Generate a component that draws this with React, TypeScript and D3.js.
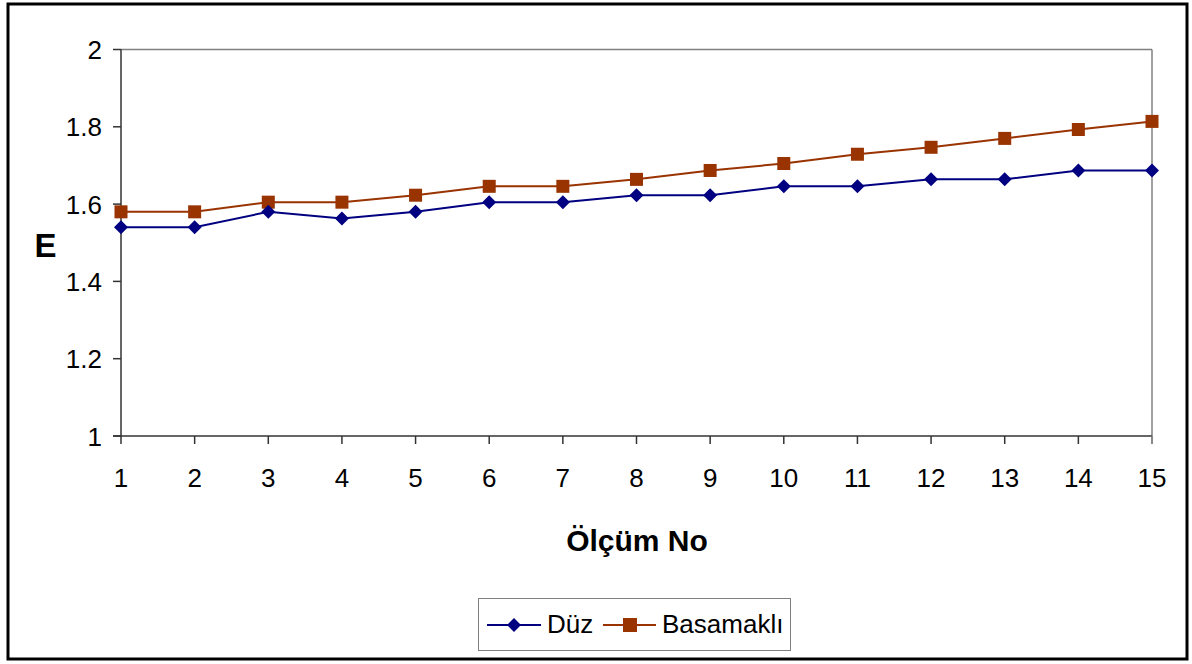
import React from "react";
import * as d3 from "d3";

const measurements = [1, 2, 3, 4, 5, 6, 7, 8, 9, 10, 11, 12, 13, 14, 15];
const duzValues = [1.54, 1.54, 1.58, 1.563, 1.58, 1.605, 1.605, 1.623, 1.623, 1.646, 1.646, 1.664, 1.664, 1.687, 1.687];
const basamakliValues = [1.58, 1.58, 1.605, 1.605, 1.623, 1.646, 1.646, 1.664, 1.687, 1.705, 1.729, 1.747, 1.77, 1.793, 1.814];
const yTicks = [1, 1.2, 1.4, 1.6, 1.8, 2];

const W = 1192;
const H = 664;
const FONT = "'Liberation Sans', Arial, sans-serif";
const BLUE = "#000080";
const ORANGE = "#993300";

export default function App() {
  const x = d3.scaleLinear().domain([1, 15]).range([121, 1152]);
  const y = d3.scaleLinear().domain([1, 2]).range([436, 49.5]);

  const line = d3
    .line<number>()
    .x((_, i) => x(measurements[i]))
    .y((d) => y(d));

  const diamond = (cx: number, cy: number, r = 7) =>
    `M${cx},${cy - r}L${cx + r},${cy}L${cx},${cy + r}L${cx - r},${cy}Z`;

  return (
    <svg
      width={W}
      height={H}
      style={{ position: "absolute", left: 0, top: 0, background: "#fff" }}
    >
      {/* outer frame */}
      <rect x={8} y={4} width={1179} height={655} fill="none" stroke="#000" strokeWidth={3} />

      {/* plot frame (top and right) */}
      <line x1={x(1)} x2={x(15)} y1={y(2)} y2={y(2)} stroke="#808080" strokeWidth={1.5} />
      <line x1={x(15)} x2={x(15)} y1={y(2)} y2={y(1) + 8} stroke="#808080" strokeWidth={1.5} />

      {/* y axis */}
      <line x1={x(1)} x2={x(1)} y1={y(2)} y2={y(1)} stroke="#333" strokeWidth={1.5} />
      {yTicks.map((t) => (
        <g key={t}>
          <line x1={x(1) - 8} x2={x(1)} y1={y(t)} y2={y(t)} stroke="#333" strokeWidth={1.5} />
          <text
            x={102}
            y={y(t) + 9.5}
            textAnchor="end"
            fontFamily={FONT}
            fontSize={26}
            fill="#000"
          >
            {d3.format("~g")(t)}
          </text>
        </g>
      ))}

      {/* x axis */}
      <line x1={x(1) - 8} x2={x(15)} y1={y(1)} y2={y(1)} stroke="#333" strokeWidth={1.5} />
      {measurements.map((m) => (
        <g key={m}>
          <line x1={x(m)} x2={x(m)} y1={y(1)} y2={y(1) + 8} stroke={m === 15 ? "#808080" : "#333"} strokeWidth={1.5} />
          <text
            x={x(m)}
            y={487}
            textAnchor="middle"
            fontFamily={FONT}
            fontSize={26}
            fill="#000"
          >
            {m}
          </text>
        </g>
      ))}

      {/* axis titles */}
      <text x={637} y={551} textAnchor="middle" fontFamily={FONT} fontSize={30} fontWeight="bold">
        Ölçüm No
      </text>
      <text x={45.5} y={257} textAnchor="middle" fontFamily={FONT} fontSize={33} fontWeight="bold">
        E
      </text>

      {/* series */}
      <path d={line(basamakliValues) ?? ""} fill="none" stroke={ORANGE} strokeWidth={2} />
      {basamakliValues.map((v, i) => (
        <rect key={i} x={x(measurements[i]) - 6.5} y={y(v) - 6.5} width={13} height={13} fill={ORANGE} />
      ))}
      <path d={line(duzValues) ?? ""} fill="none" stroke={BLUE} strokeWidth={2} />
      {duzValues.map((v, i) => (
        <path key={i} d={diamond(x(measurements[i]), y(v))} fill={BLUE} />
      ))}

      {/* legend */}
      <rect x={478.5} y={598.5} width={312} height={52} fill="#fff" stroke="#808080" strokeWidth={1} />
      <line x1={487} x2={541} y1={625} y2={625} stroke={BLUE} strokeWidth={2} />
      <path d={diamond(514, 625, 7)} fill={BLUE} />
      <text x={547} y={633} fontFamily={FONT} fontSize={26}>Düz</text>
      <line x1={603} x2={656} y1={625} y2={625} stroke={ORANGE} strokeWidth={2} />
      <rect x={623} y={618} width={14} height={14} fill={ORANGE} />
      <text x={662} y={633} fontFamily={FONT} fontSize={26}>Basamaklı</text>
    </svg>
  );
}
